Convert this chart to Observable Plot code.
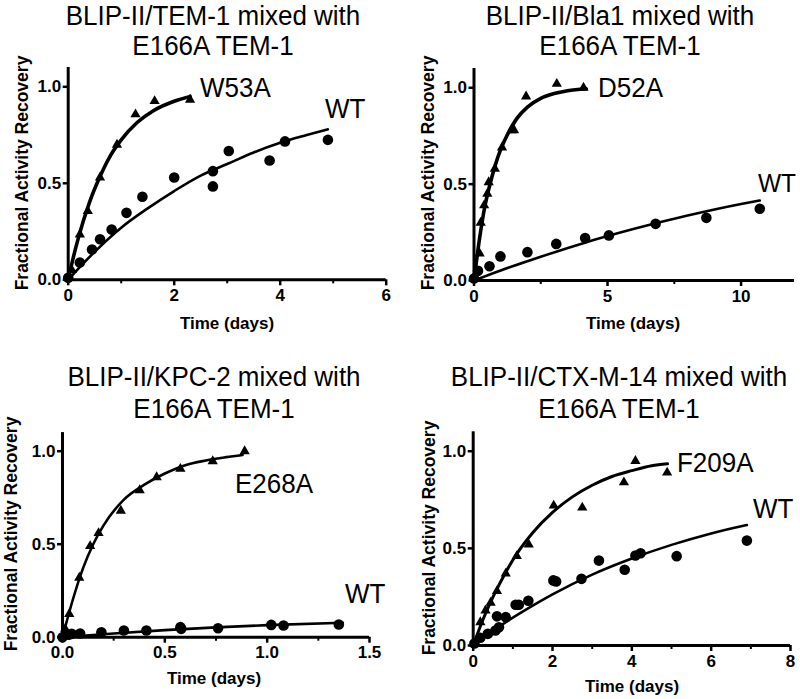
<!DOCTYPE html>
<html>
<head>
<meta charset="utf-8">
<script src="https://cdn.jsdelivr.net/npm/d3@7"></script>
<script src="https://cdn.jsdelivr.net/npm/@observablehq/plot@0.6"></script>
<style>
  html, body { margin: 0; padding: 0; background: #fff; }
  #wrap { position: relative; width: 800px; height: 699px; overflow: hidden; background: #fff; }
  #wrap svg.panel { position: absolute; }
  #overlay { position: absolute; left: 0; top: 0; pointer-events: none; }
</style>
</head>
<body>
<div id="wrap"></div>
<script>
// ---------------- DATA ----------------
// shared y ticks
const yTicks = [0, 0.5, 1.0];

// Panel 1: BLIP-II/TEM-1
const p1Title = ["BLIP-II/TEM-1 mixed with", "E166A TEM-1"];
const p1XTicks = [0, 2, 4, 6];
const p1XMinor = [1, 3, 5];
const p1MutName = "W53A";
const p1MutT = [0, 0.07, 0.22, 0.37, 0.6, 0.92, 1.27, 1.63, 2.3];
const p1MutV = [0.01, 0.05, 0.235, 0.356, 0.53, 0.70, 0.857, 0.926, 0.933];
const p1MutFitT = [0, 0.1, 0.2, 0.4, 0.6, 0.8, 1.0, 1.3, 1.6, 2.0, 2.3];
const p1MutFitV = [0, 0.12, 0.225, 0.4, 0.535, 0.645, 0.725, 0.815, 0.875, 0.925, 0.95];
const p1WtT = [0, 0.22, 0.45, 0.6, 0.82, 1.1, 1.4, 2.0, 2.73, 2.73, 3.03, 3.8, 4.09, 4.9];
const p1WtV = [0.01, 0.09, 0.157, 0.21, 0.26, 0.347, 0.43, 0.53, 0.563, 0.484, 0.667, 0.618, 0.717, 0.725];
const p1WtFitT = [0, 0.25, 0.5, 1, 1.5, 2, 2.5, 3, 3.5, 4, 4.5, 4.9];
const p1WtFitV = [0, 0.075, 0.145, 0.27, 0.37, 0.46, 0.54, 0.6, 0.66, 0.71, 0.75, 0.78];

// Panel 2: BLIP-II/Bla1
const p2Title = ["BLIP-II/Bla1 mixed with", "E166A TEM-1"];
const p2XTicks = [0, 5, 10];
const p2XMinor = [2.5, 7.5];
const p2MutName = "D52A";
const p2MutT = [0, 0.21, 0.25, 0.38, 0.5, 0.55, 0.78, 1.05, 1.4, 1.5, 1.95, 3.1, 4.1];
const p2MutV = [0.02, 0.14, 0.30, 0.39, 0.45, 0.51, 0.58, 0.69, 0.78, 0.78, 0.955, 1.02, 1.0];
const p2MutFitT = [0, 0.2, 0.4, 0.6, 0.8, 1.0, 1.3, 1.6, 2.0, 2.5, 3, 3.5, 4.2];
const p2MutFitV = [0, 0.21, 0.38, 0.5, 0.6, 0.68, 0.77, 0.84, 0.9, 0.945, 0.97, 0.985, 0.995];
const p2WtT = [0, 0.15, 0.58, 0.99, 2.0, 3.08, 4.16, 5.05, 6.8, 8.7, 10.7];
const p2WtV = [0.01, 0.05, 0.074, 0.125, 0.147, 0.19, 0.22, 0.234, 0.294, 0.325, 0.372];
const p2WtFitT = [0, 1, 2, 4, 6, 8, 10, 10.7];
const p2WtFitV = [0, 0.052, 0.1, 0.19, 0.268, 0.337, 0.397, 0.415];

// Panel 3: BLIP-II/KPC-2
const p3Title = ["BLIP-II/KPC-2 mixed with", "E166A TEM-1"];
const p3XTicks = [0, 0.5, 1.0, 1.5];
const p3XMinor = [0.25, 0.75, 1.25];
const p3MutName = "E268A";
const p3MutT = [0, 0.013, 0.033, 0.082, 0.135, 0.176, 0.285, 0.377, 0.46, 0.576, 0.734, 0.89];
const p3MutV = [0.01, 0.045, 0.125, 0.32, 0.49, 0.56, 0.68, 0.79, 0.86, 0.905, 0.946, 1.0];
const p3MutFitT = [0, 0.05, 0.1, 0.15, 0.2, 0.3, 0.4, 0.5, 0.6, 0.7, 0.8, 0.88];
const p3MutFitV = [0, 0.2, 0.37, 0.5, 0.6, 0.74, 0.82, 0.88, 0.925, 0.95, 0.968, 0.98];
const p3WtT = [0, 0.03, 0.045, 0.086, 0.19, 0.30, 0.41, 0.576, 0.58, 0.76, 1.02, 1.08, 1.35];
const p3WtV = [0.0, 0.013, 0.018, 0.02, 0.027, 0.036, 0.036, 0.054, 0.045, 0.048, 0.066, 0.063, 0.068];
const p3WtFitT = [0, 0.25, 0.5, 0.75, 1, 1.37];
const p3WtFitV = [0, 0.02, 0.038, 0.053, 0.065, 0.078];

// Panel 4: BLIP-II/CTX-M-14
const p4Title = ["BLIP-II/CTX-M-14 mixed with", "E166A TEM-1"];
const p4XTicks = [0, 2, 4, 6, 8];
const p4XMinor = [1, 3, 5, 7];
const p4MutName = "F209A";
const p4MutT = [0.03, 0.18, 0.31, 0.44, 0.6, 0.82, 1.1, 1.4, 2.03, 2.75, 3.8, 4.09, 4.89];
const p4MutV = [0.01, 0.12, 0.18, 0.22, 0.28, 0.37, 0.46, 0.52, 0.72, 0.71, 0.84, 0.95, 0.89];
const p4MutFitT = [0, 0.25, 0.5, 0.75, 1, 1.5, 2, 2.5, 3, 3.5, 4, 4.5, 4.9];
const p4MutFitV = [0, 0.135, 0.25, 0.35, 0.44, 0.58, 0.685, 0.765, 0.825, 0.87, 0.9, 0.925, 0.935];
const p4WtT = [0.03, 0.18, 0.37, 0.56, 0.65, 0.6, 0.82, 1.07, 1.15, 1.39, 2.02, 2.09, 2.73, 3.17, 3.82, 4.09, 4.22, 5.13, 6.9];
const p4WtV = [0.01, 0.04, 0.06, 0.077, 0.094, 0.15, 0.146, 0.21, 0.21, 0.23, 0.335, 0.33, 0.343, 0.437, 0.39, 0.463, 0.475, 0.46, 0.54];
const p4WtFitT = [0, 0.5, 1, 1.5, 2, 3, 4, 5, 6, 6.9];
const p4WtFitV = [0, 0.075, 0.143, 0.205, 0.263, 0.365, 0.448, 0.518, 0.577, 0.62];

const wtName = "WT";
const xAxisTitle = "Time (days)";
const yAxisTitle = "Fractional Activity Recovery";

// ---------------- LAYOUT ----------------
const FONT = '"Liberation Sans", Arial, Helvetica, sans-serif';
const zip = (T, V) => T.map((t, i) => ({t, v: V[i]}));

const panels = [
  { left: 0, top: 0, w: 400, h: 345, mL: 67.7, mR: 14.3, mT: 67, mB: 65.7, xDomain: [0, 6],
    major: p1XTicks, minor: p1XMinor, fmt: d3.format("d"),
    mut: [p1MutT, p1MutV, p1MutFitT, p1MutFitV], wt: [p1WtT, p1WtV, p1WtFitT, p1WtFitV],
    mutW: 3.6, wtW: 2.6,
    title: p1Title, tx: 213, ty: [25, 55], mutName: p1MutName, mutL: [200, 97], wtL: [325, 118, 26],
    xt: [227, 329], yt: [22, 173] },
  { left: 400, top: 0, w: 400, h: 345, mL: 73.5, mR: 6, mT: 68, mB: 65, xDomain: [0, 12],
    major: p2XTicks, minor: p2XMinor, fmt: d3.format("d"),
    mut: [p2MutT, p2MutV, p2MutFitT, p2MutFitV], wt: [p2WtT, p2WtV, p2WtFitT, p2WtFitV],
    mutW: 3.6, wtW: 2.6,
    title: p2Title, tx: 620, ty: [25, 55], mutName: p2MutName, mutL: [598, 97], wtL: [758, 192, 24.5],
    xt: [633, 329], yt: [428, 173] },
  { left: 0, top: 345, w: 400, h: 354, mL: 62, mR: 31, mT: 87.1, mB: 62.3, xDomain: [0, 1.5],
    major: p3XTicks, minor: p3XMinor, fmt: d3.format(".1f"),
    mut: [p3MutT, p3MutV, p3MutFitT, p3MutFitV], wt: [p3WtT, p3WtV, p3WtFitT, p3WtFitV],
    mutW: 2.6, wtW: 2.6,
    title: p3Title, tx: 214, ty: [386, 418], mutName: p3MutName, mutL: [235, 493], wtL: [345, 603, 26],
    xt: [214, 684], yt: [11, 534] },
  { left: 400, top: 345, w: 400, h: 354, mL: 72.7, mR: 10, mT: 86.3, mB: 54, xDomain: [0, 8],
    major: p4XTicks, minor: p4XMinor, fmt: d3.format("d"),
    mut: [p4MutT, p4MutV, p4MutFitT, p4MutFitV], wt: [p4WtT, p4WtV, p4WtFitT, p4WtFitV],
    mutW: 3.0, wtW: 2.6,
    title: p4Title, tx: 619, ty: [386, 418], mutName: p4MutName, mutL: [677, 472], wtL: [753, 518, 26],
    xt: [632, 692], yt: [429, 538] }
];

const wrap = document.getElementById("wrap");

for (const p of panels) {
  const chart = Plot.plot({
    width: p.w, height: p.h,
    marginLeft: p.mL, marginRight: p.mR, marginTop: p.mT, marginBottom: p.mB,
    style: { fontFamily: FONT, fontSize: "17px", fontWeight: "bold", background: "transparent", color: "black" },
    x: { domain: p.xDomain, axis: null },
    y: { domain: [0, 1.1], axis: null },
    marks: [
      Plot.line(zip(p.wt[2], p.wt[3]), { x: "t", y: "v", curve: "monotone-x", stroke: "black", strokeWidth: p.wtW }),
      Plot.line(zip(p.mut[2], p.mut[3]), { x: "t", y: "v", curve: "monotone-x", stroke: "black", strokeWidth: p.mutW }),
      Plot.dot(zip(p.wt[0], p.wt[1]), { x: "t", y: "v", r: 5.3, fill: "black", stroke: null }),
      Plot.dot(zip(p.mut[0], p.mut[1]), { x: "t", y: "v", r: 3.8, symbol: "triangle", fill: "black", stroke: null }),
      Plot.axisX(p.minor, { tickSize: 4, strokeWidth: 2, tickFormat: () => "", label: null }),
      Plot.axisX(p.major, { tickSize: 6, tickPadding: 3, strokeWidth: 2.5, tickFormat: p.fmt, label: null,
        fontSize: 17, fontWeight: "bold", fill: "black" }),
      Plot.axisY(yTicks, { tickSize: 5, tickPadding: 2, strokeWidth: 2.5, tickFormat: d3.format(".1f"), label: null,
        fontSize: 17, fontWeight: "bold", fill: "black" }),
      Plot.ruleY([0], { stroke: "black", strokeWidth: 3 }),
      Plot.ruleX([0], { stroke: "black", strokeWidth: 3 })
    ]
  });
  chart.classList.add("panel");
  chart.style.left = p.left + "px";
  chart.style.top = p.top + "px";
  wrap.appendChild(chart);
}

// text overlay
const ov = d3.select(wrap).append("svg").attr("id", "overlay")
  .attr("width", 800).attr("height", 699)
  .style("font-family", FONT);

const tallText = (x, y, size, str, anchor) =>
  ov.append("text").attr("transform", `translate(${x},${y}) scale(1,1.07)`)
    .attr("text-anchor", anchor || "start").attr("font-size", size).attr("fill", "black").text(str);

for (const p of panels) {
  p.title.forEach((line, i) => tallText(p.tx, p.ty[i], 26, line, "middle"));
  tallText(p.mutL[0], p.mutL[1], 26, p.mutName);
  tallText(p.wtL[0], p.wtL[1], p.wtL[2], wtName);
  ov.append("text").attr("x", p.xt[0]).attr("y", p.xt[1]).attr("text-anchor", "middle")
    .attr("font-size", 17).attr("font-weight", "bold").text(xAxisTitle);
  ov.append("text").attr("transform", `translate(${p.yt[0]},${p.yt[1]}) rotate(-90)`)
    .attr("text-anchor", "middle").attr("dominant-baseline", "central")
    .attr("font-size", 17.5).attr("font-weight", "bold").text(yAxisTitle);
}
</script>
</body>
</html>
